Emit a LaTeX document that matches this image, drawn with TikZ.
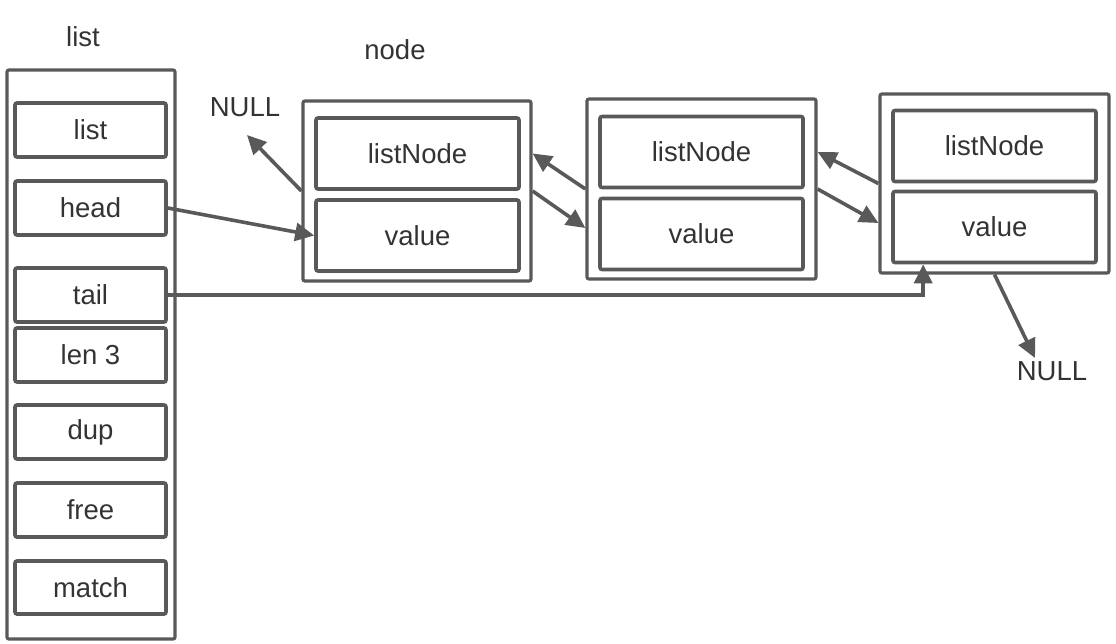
\documentclass[tikz,border=0pt]{standalone}
\usepackage{fontspec}
\setmainfont{Liberation Sans}
\usetikzlibrary{arrows.meta}
\definecolor{linegray}{HTML}{595959}
\definecolor{textgray}{HTML}{333333}

\begin{document}
\begin{tikzpicture}[x=1pt,y=-1pt,
  font={\fontsize{27.5}{32}\selectfont}, text=textgray,
  field/.style={draw=linegray, line width=3.6pt, rounded corners=2pt, minimum width=151pt, inner sep=0pt},
  cell/.style={draw=linegray, line width=3.6pt, rounded corners=2pt, minimum width=203pt, minimum height=71pt, inner sep=0pt},
  frame/.style={draw=linegray, line width=3.2pt, rounded corners=2pt, inner sep=0pt},
  label/.style={inner sep=1pt},
  arr/.style={draw=linegray, line width=3.6pt, -{Triangle[length=19pt,width=18pt]}}]
\useasboundingbox (0,0) rectangle (1116,643);
% list struct
\node[frame, minimum width=168pt, minimum height=569pt] (lst) at (91,354.5) {};
\node[label] (lsttitle) at (83,37) {list};
\node[field, minimum height=54pt] (lname) at (90.5,130) {list};
\node[field, minimum height=54pt] (head) at (90.5,208) {head};
\node[field, minimum height=54pt] (tail) at (90.5,295) {tail};
\node[field, minimum height=54pt] (len) at (90.5,355) {len 3};
\node[field, minimum height=54pt] (dup) at (90.5,432) {dup};
\node[field, minimum height=54pt] (free) at (90.5,510) {free};
\node[field, minimum height=53pt] (match) at (90.5,587.5) {match};
% list nodes
\node[label] (nodetitle) at (395,50) {node};
\node[frame, minimum width=228pt, minimum height=180pt] (n1) at (417,191) {};
\node[cell] (ln1) at (417.5,153.5) {listNode};
\node[cell] (val1) at (417.5,235.5) {value};
\node[frame, minimum width=229pt, minimum height=180pt] (n2) at (701.5,189) {};
\node[cell] (ln2) at (701.5,152) {listNode};
\node[cell] (val2) at (701.5,234) {value};
\node[frame, minimum width=229pt, minimum height=179pt] (n3) at (994.5,183.5) {};
\node[cell] (ln3) at (994.5,146) {listNode};
\node[cell] (val3) at (994.5,227) {value};
% NULL ends
\node[label] (nullA) at (245,107) {NULL};
\node[label] (nullB) at (1052,371) {NULL};
\coordinate (nullAend) at (247,135);
\coordinate (nullBend) at (1035,358);
% pointers
\draw[arr] (n1.west) -- (nullAend);
\draw[arr] (head.east) -- (val1.west);
\draw[arr] (n2.west) -- (n1.east |- ln1);
\draw[arr] (n1.east) -- ([yshift=6pt]n2.west |- val2);
\draw[arr] (n3.west) -- (n2.east |- ln2);
\draw[arr] (n2.east) -- ([yshift=4pt]n3.west |- val3);
\draw[arr] (tail.east) -| ([xshift=32pt]val3.south west);
\draw[arr] (n3.south) -- (nullBend);
\end{tikzpicture}
\end{document}
